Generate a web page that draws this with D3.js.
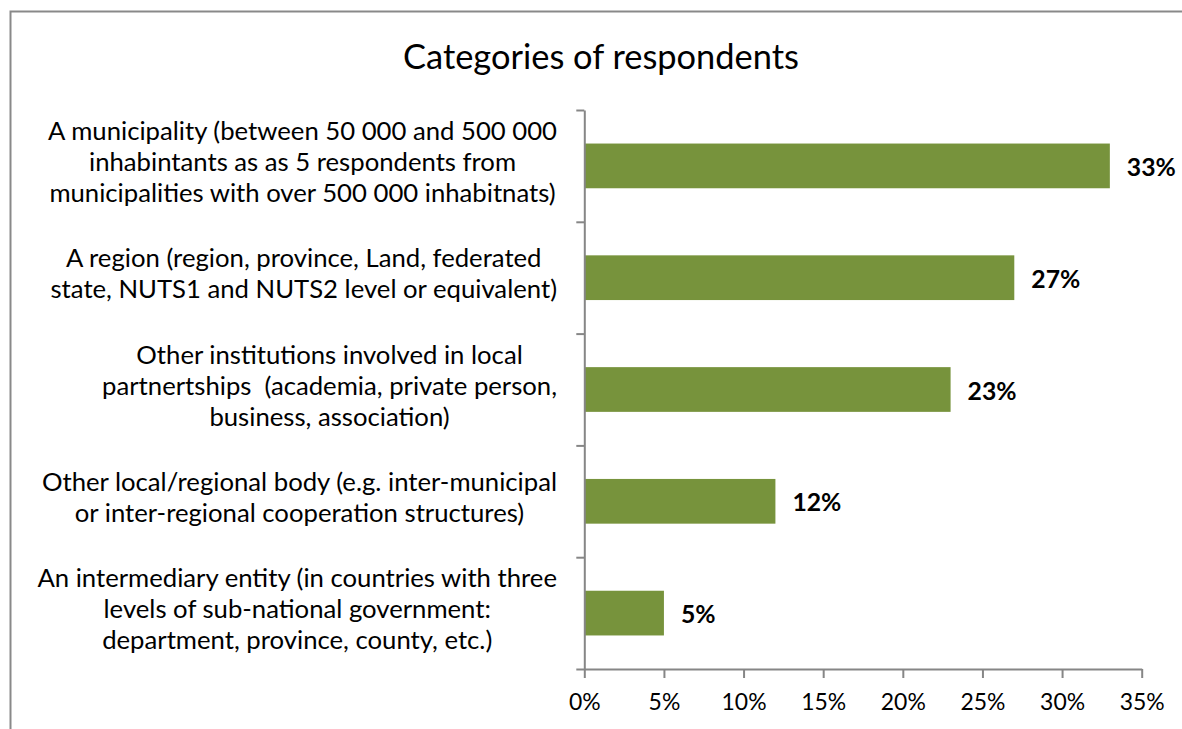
<!DOCTYPE html>
<html>
<head>
<meta charset="utf-8">
<script src="https://cdn.jsdelivr.net/npm/d3@7/dist/d3.min.js"></script>
<style>
  body { margin: 0; background: #fff; }
  svg { display: block; }
  text { white-space: pre; }
</style>
</head>
<body>
<svg id="chart" width="1182" height="729"></svg>
<script>
// Survey respondent categories (each label wrapped onto its display lines)
const categories = [
  ["A municipality (between 50 000 and 500 000", "inhabintants as as 5 respondents from", "municipalities with over 500 000 inhabitnats)"],
  ["A region (region, province, Land, federated", "state, NUTS1 and NUTS2 level or equivalent)"],
  ["Other institutions involved in local", "partnertships  (academia, private person,", "business, association)"],
  ["Other local/regional body (e.g. inter-municipal", "or inter-regional cooperation structures)"],
  ["An intermediary entity (in countries with three", "levels of sub-national government:", "department, province, county, etc.)"]
];
// Share of respondents, in percent
const values = [33, 27, 23, 12, 5];
// Value axis ticks, in percent
const tickValues = [0, 5, 10, 15, 20, 25, 30, 35];
const chartTitle = "Categories of respondents";

const FONT = "Lato, 'Open Sans', sans-serif";
const AXIS_COLOR = "#868686";
const BAR_COLOR = "#77933C";

const svg = d3.select("#chart");

// Plot area
const plot = { left: 584.3, right: 1141.7, top: 110, bottom: 669 };

// Scale a font so a sample string spans a given width
function fitSize(text, targetWidth, weight) {
  const probe = svg.append("text")
    .attr("font-family", FONT)
    .attr("font-weight", weight || "normal")
    .attr("font-size", 100)
    .text(text);
  const w = probe.node().getComputedTextLength();
  probe.remove();
  return 100 * targetWidth / w;
}
const titleSize = fitSize(chartTitle, 396);
const labelSize = fitSize(categories[0][0], 509);
const tickSize = fitSize("20%", 45);
const valueSize = fitSize("27%", 49, "bold");

// Outer chart frame (left and top edges visible)
svg.append("path")
  .attr("d", "M10.5,729 L10.5,11.5 L1182,11.5")
  .attr("fill", "none")
  .attr("stroke", "#898989")
  .attr("stroke-width", 2);

// Title
svg.append("text")
  .attr("x", 601)
  .attr("y", 69)
  .attr("text-anchor", "middle")
  .attr("font-family", FONT)
  .attr("font-size", titleSize)
  .attr("fill", "#000")
  .text(chartTitle);

const x = d3.scaleLinear().domain([0, 35]).range([plot.left, plot.right]);
const y = d3.scaleBand()
  .domain(d3.range(categories.length))
  .range([plot.top, plot.bottom])
  .paddingInner(0.6)
  .paddingOuter(0.3);
// Category boundaries for the tick marks of the category axis
const yEdge = d3.scaleLinear().domain([0, categories.length]).range([plot.top, plot.bottom]);

// Bars
svg.append("g")
  .selectAll("rect")
  .data(values)
  .join("rect")
  .attr("x", x(0))
  .attr("y", (d, i) => y(i))
  .attr("width", d => x(d) - x(0))
  .attr("height", y.bandwidth())
  .attr("fill", BAR_COLOR);

// Value axis
const xAxis = svg.append("g")
  .attr("transform", `translate(0,${plot.bottom})`)
  .call(d3.axisBottom(x)
    .tickValues(tickValues)
    .tickSize(9)
    .tickSizeOuter(0)
    .tickPadding(0)
    .tickFormat(d => d + "%"));
xAxis.select(".domain").attr("stroke", AXIS_COLOR).attr("stroke-width", 2);
xAxis.selectAll(".tick line").attr("stroke", AXIS_COLOR).attr("stroke-width", 2);
xAxis.selectAll(".tick text")
  .attr("y", 41)
  .attr("dy", null)
  .attr("font-family", FONT)
  .attr("font-size", tickSize)
  .attr("fill", "#000");

// Category axis (ticks between categories)
const yAxis = svg.append("g")
  .attr("transform", `translate(${plot.left},0)`)
  .call(d3.axisLeft(yEdge)
    .tickValues(d3.range(categories.length + 1))
    .tickSize(8)
    .tickSizeOuter(0)
    .tickFormat(""));
yAxis.select(".domain").attr("stroke", AXIS_COLOR).attr("stroke-width", 2);
yAxis.selectAll(".tick line").attr("stroke", AXIS_COLOR).attr("stroke-width", 2);

// Category labels: block right-aligned to the axis, lines centred within it
const labelRight = 557;
const lineGap = 31;
const labelGroups = svg.append("g")
  .selectAll("g")
  .data(categories)
  .join("g")
  .attr("font-family", FONT)
  .attr("font-size", labelSize)
  .attr("fill", "#000");

labelGroups.each(function(lines, i) {
  const g = d3.select(this);
  const cy = y(i) + y.bandwidth() / 2;
  const texts = g.selectAll("text")
    .data(lines)
    .join("text")
    .attr("text-anchor", "middle")
    .attr("y", (d, k) => cy + (k - (lines.length - 1) / 2) * lineGap + 5)
    .text(d => d);
  let maxW = 0;
  texts.each(function() { maxW = Math.max(maxW, this.getComputedTextLength()); });
  texts.attr("x", labelRight - maxW / 2);
});

// Value labels
svg.append("g")
  .selectAll("text")
  .data(values)
  .join("text")
  .attr("x", d => x(d) + 17)
  .attr("y", (d, i) => y(i) + y.bandwidth() / 2 + 10)
  .attr("font-family", FONT)
  .attr("font-weight", "bold")
  .attr("font-size", valueSize)
  .attr("fill", "#000")
  .text(d => d + "%");
</script>
</body>
</html>
